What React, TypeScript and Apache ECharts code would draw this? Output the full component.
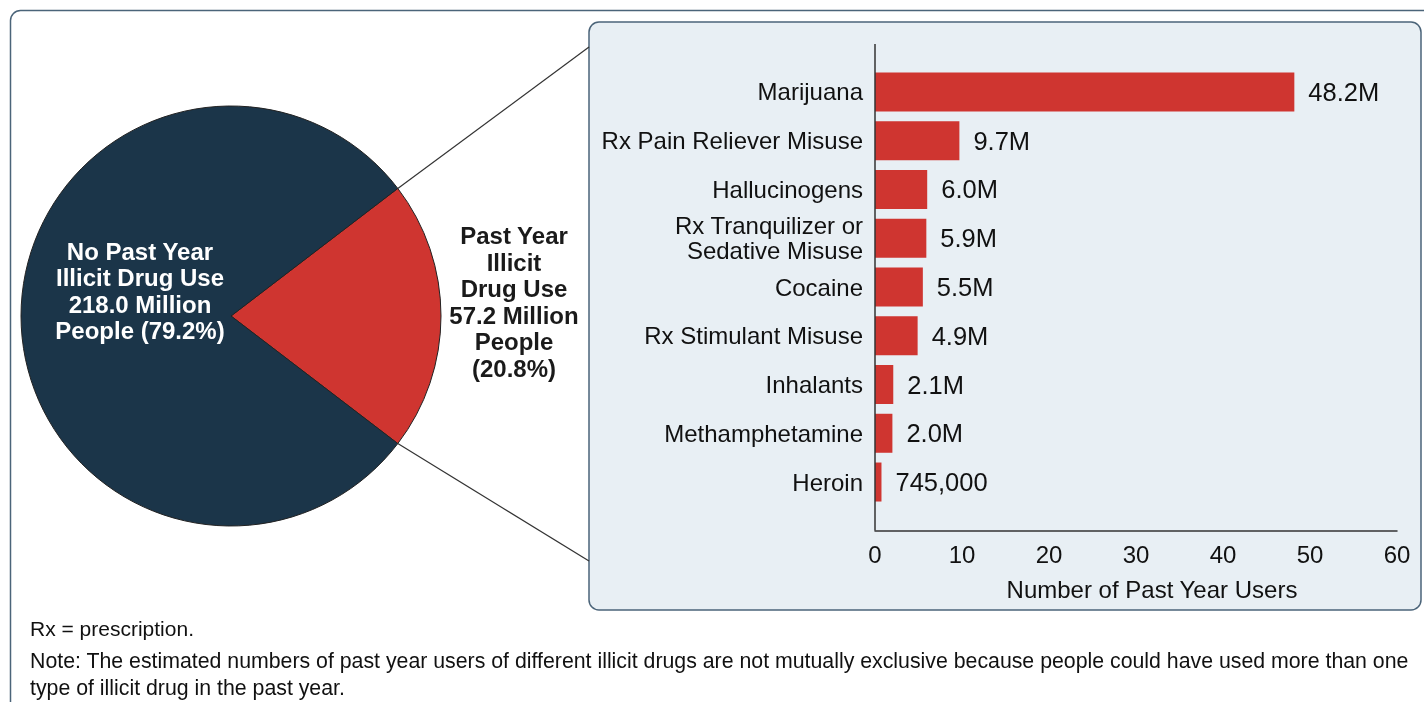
import React, { useEffect, useRef } from "react";
import * as echarts from "echarts";

const pieNames = ["Past Year Illicit Drug Use", "No Past Year Illicit Drug Use"];
const pieValues = [57.2, 218.0];
const pieColors = ["#cf3530", "#1b3549"];

const drugCategories = [
  "Marijuana",
  "Rx Pain Reliever Misuse",
  "Hallucinogens",
  "Rx Tranquilizer or\nSedative Misuse",
  "Cocaine",
  "Rx Stimulant Misuse",
  "Inhalants",
  "Methamphetamine",
  "Heroin",
];
const drugUsers = [48.2, 9.7, 6.0, 5.9, 5.5, 4.9, 2.1, 2.0, 0.745];
const drugLabels = ["48.2M", "9.7M", "6.0M", "5.9M", "5.5M", "4.9M", "2.1M", "2.0M", "745,000"];
const xTicks = [0, 10, 20, 30, 40, 50, 60];

const FONT = "Liberation Sans, Arial, sans-serif";

export default function App() {
  const ref = useRef<HTMLDivElement>(null);
  useEffect(() => {
    if (!ref.current) return;
    const chart = echarts.init(ref.current, undefined, { renderer: "svg" });
    const total = pieValues[0] + pieValues[1];
    const pctRed = (pieValues[0] / total) * 100;
    const pctDark = (pieValues[1] / total) * 100;
    const half = (pctRed / 100) * 180;
    const cx = 231, cy = 316, r = 210;
    const rad = (half * Math.PI) / 180;
    const ux = cx + r * Math.cos(rad), uy = cy - r * Math.sin(rad);
    const lx = cx + r * Math.cos(rad), ly = cy + r * Math.sin(rad);

    const leftLabel = `No Past Year\nIllicit Drug Use\n${pieValues[1].toFixed(1)} Million\nPeople (${pctDark.toFixed(1)}%)`;
    const rightLabel = `Past Year\nIllicit\nDrug Use\n${pieValues[0].toFixed(1)} Million\nPeople\n(${pctRed.toFixed(1)}%)`;

    chart.setOption({
      animation: false,
      textStyle: { fontFamily: FONT },
      graphic: [
        {
          type: "rect",
          z: -3,
          shape: { x: 10.5, y: 10.5, width: 1440, height: 720, r: 10 },
          style: { fill: "#ffffff", stroke: "#4b6479", lineWidth: 1.5 },
        },
        {
          type: "rect",
          z: -2,
          shape: { x: 589, y: 22, width: 832, height: 588, r: 10 },
          style: { fill: "#e8eff4", stroke: "#4b6479", lineWidth: 1.5 },
        },
        {
          type: "line",
          z: 5,
          shape: { x1: ux, y1: uy, x2: 589, y2: 47 },
          style: { stroke: "#333", lineWidth: 1.2 },
        },
        {
          type: "line",
          z: 5,
          shape: { x1: lx, y1: ly, x2: 589, y2: 561 },
          style: { stroke: "#333", lineWidth: 1.2 },
        },
        {
          type: "line",
          z: 5,
          shape: { x1: 875, y1: 44, x2: 875, y2: 530.4 },
          style: { stroke: "#333", lineWidth: 1.5 },
        },
        {
          type: "text",
          z: 10,
          x: 140,
          y: 291,
          style: {
            text: leftLabel,
            fill: "#ffffff",
            font: `bold 24px ${FONT}`,
            textAlign: "center",
            textVerticalAlign: "middle",
            lineHeight: 26.5,
          },
        },
        {
          type: "text",
          z: 10,
          x: 514,
          y: 302,
          style: {
            text: rightLabel,
            fill: "#1a1a1a",
            font: `bold 24px ${FONT}`,
            textAlign: "center",
            textVerticalAlign: "middle",
            lineHeight: 26.5,
          },
        },
        {
          type: "text",
          z: 10,
          x: 1152,
          y: 589,
          style: {
            text: "Number of Past Year Users",
            fill: "#111",
            font: `24px ${FONT}`,
            textAlign: "center",
            textVerticalAlign: "middle",
          },
        },
        {
          type: "text",
          z: 10,
          x: 30,
          y: 628,
          style: {
            text: "Rx = prescription.",
            fill: "#111",
            font: `21px ${FONT}`,
            textAlign: "left",
            textVerticalAlign: "middle",
          },
        },
        {
          type: "text",
          z: 10,
          x: 30,
          y: 674.5,
          style: {
            text:
              "Note: The estimated numbers of past year users of different illicit drugs are not mutually exclusive because people could have used more than one\ntype of illicit drug in the past year.",
            fill: "#111",
            font: `21.3px ${FONT}`,
            textAlign: "left",
            textVerticalAlign: "middle",
            lineHeight: 27,
          },
        },
      ],
      grid: { left: 875, right: 27, top: 67.6, bottom: 195.6, containLabel: false },
      xAxis: {
        type: "value",
        min: xTicks[0],
        max: xTicks[xTicks.length - 1],
        interval: 10,
        offset: 24,
        axisLine: { show: true, lineStyle: { color: "#333", width: 1.5 } },
        axisTick: { show: false },
        splitLine: { show: false },
        axisLabel: { color: "#111", fontSize: 24, fontFamily: FONT, margin: 12 },
      },
      yAxis: {
        type: "category",
        inverse: true,
        data: drugCategories,
        axisLine: { show: false },
        axisTick: { show: false },
        axisLabel: {
          color: "#111",
          fontSize: 24,
          fontFamily: FONT,
          margin: 12,
          align: "right",
          lineHeight: 24.5,
        },
      },
      series: [
        {
          type: "pie",
          center: [cx, cy],
          radius: r,
          startAngle: half,
          clockwise: true,
          silent: true,
          label: { show: false },
          labelLine: { show: false },
          itemStyle: { borderColor: "#222", borderWidth: 1 },
          data: pieValues.map((v, i) => ({
            value: v,
            name: pieNames[i],
            itemStyle: { color: pieColors[i] },
          })),
          z: 3,
        },
        {
          type: "bar",
          data: drugUsers,
          barWidth: 39,
          itemStyle: { color: "#cf3530" },
          label: {
            show: true,
            position: "right",
            distance: 14,
            color: "#111",
            fontSize: 25.5,
            fontFamily: FONT,
            formatter: (p: any) => drugLabels[p.dataIndex],
          },
        },
      ],
    });
    return () => chart.dispose();
  }, []);
  return (
    <div
      ref={ref}
      style={{ position: "fixed", left: 0, top: 0, width: 1424, height: 702 }}
    />
  );
}
